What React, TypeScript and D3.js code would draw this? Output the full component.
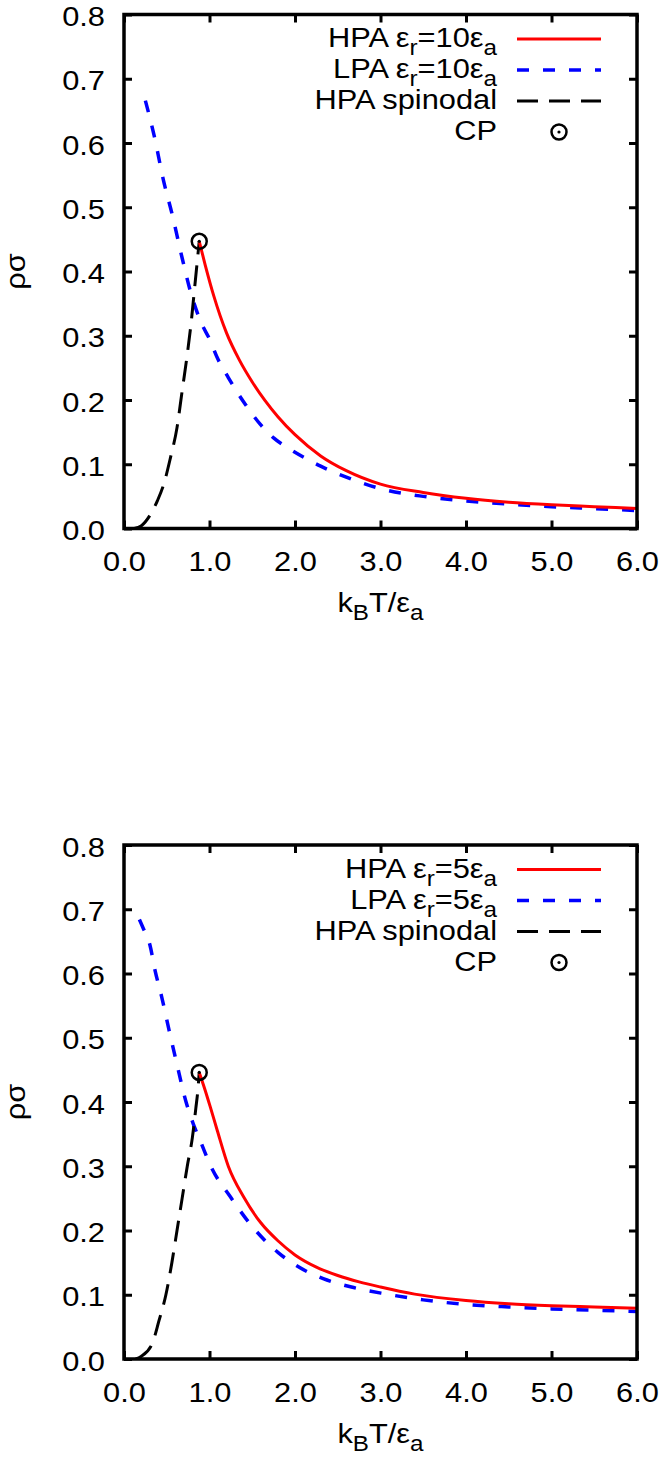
import React, { useEffect, useRef } from 'react';
import * as d3 from 'd3';

// axis ticks
const tickT = [0, 1, 2, 3, 4, 5, 6];
const tickRho = [0, 0.1, 0.2, 0.3, 0.4, 0.5, 0.6, 0.7, 0.8];

// upper panel, eps_r = 10 eps_a
const hpa10T = [0.88, 0.95, 1.05, 1.2, 1.35, 1.5, 1.65, 1.8, 2.0, 2.3, 2.6, 3.0, 3.5, 4.0, 4.5, 5.0, 5.5, 6.0];
const hpa10Rho = [0.447, 0.41, 0.362, 0.304, 0.262, 0.228, 0.199, 0.174, 0.146, 0.113, 0.09, 0.069, 0.056, 0.047, 0.041, 0.037, 0.034, 0.031];
const lpa10T = [0.25, 0.35, 0.465, 0.563, 0.68, 0.777, 0.894, 1.01, 1.09, 1.22, 1.42, 1.595, 1.75, 1.945, 2.14, 2.3, 2.6, 3.0, 3.5, 4.0, 4.5, 5.0, 5.5, 6.0];
const lpa10Rho = [0.666, 0.613, 0.54, 0.489, 0.421, 0.369, 0.323, 0.292, 0.266, 0.235, 0.193, 0.162, 0.141, 0.123, 0.108, 0.097, 0.08, 0.062, 0.05, 0.043, 0.038, 0.034, 0.031, 0.028];
const spin10T = [0.12, 0.2, 0.31, 0.39, 0.465, 0.543, 0.62, 0.68, 0.735, 0.785, 0.83, 0.88];
const spin10Rho = [0.0, 0.004, 0.022, 0.043, 0.069, 0.11, 0.157, 0.214, 0.266, 0.32, 0.38, 0.447];
const cp10 = [0.88, 0.447];

// lower panel, eps_r = 5 eps_a
const hpa5T = [0.88, 0.95, 1.01, 1.09, 1.22, 1.4, 1.6, 1.8, 2.0, 2.25, 2.5, 2.75, 3.0, 3.4, 4.0, 4.5, 5.0, 5.5, 6.0];
const hpa5Rho = [0.446, 0.418, 0.392, 0.356, 0.3, 0.252, 0.212, 0.184, 0.162, 0.143, 0.13, 0.12, 0.112, 0.101, 0.091, 0.086, 0.083, 0.081, 0.079];
const lpa5T = [0.18, 0.226, 0.304, 0.363, 0.44, 0.527, 0.617, 0.726, 0.81, 0.9, 1.015, 1.246, 1.52, 1.8, 2.02, 2.33, 2.66, 3.05, 3.5, 4.0, 4.5, 5.0, 5.5, 6.0];
const lpa5Rho = [0.684, 0.67, 0.644, 0.605, 0.564, 0.512, 0.46, 0.4, 0.366, 0.337, 0.3, 0.252, 0.203, 0.166, 0.145, 0.125, 0.112, 0.1015, 0.092, 0.085, 0.081, 0.078, 0.076, 0.074];
const spin5T = [0.137, 0.2, 0.33, 0.41, 0.49, 0.56, 0.62, 0.68, 0.74, 0.8, 0.84, 0.865, 0.88];
const spin5Rho = [0, 0.004, 0.024, 0.06, 0.1, 0.15, 0.2, 0.25, 0.3, 0.345, 0.39, 0.42, 0.446];
const cp5 = [0.88, 0.446];

const FONT = '"Liberation Sans", Arial, Helvetica, sans-serif';
const FS = 28;
const SUB = 22;
const SX = 1.1; // gnuplot text is a bit wider than plain Arial

const L = 124, R = 637, T = 14.5, B = 528.5;

type Panel = {
  top: number;
  eps: string;
  hpa: [number[], number[]];
  lpa: [number[], number[]];
  spin: [number[], number[]];
  cp: number[];
};

const panels: Panel[] = [
  { top: 0, eps: '10', hpa: [hpa10T, hpa10Rho], lpa: [lpa10T, lpa10Rho], spin: [spin10T, spin10Rho], cp: cp10 },
  { top: 830.5, eps: '5', hpa: [hpa5T, hpa5Rho], lpa: [lpa5T, lpa5Rho], spin: [spin5T, spin5Rho], cp: cp5 },
];

const addText = (g: any, x: number, y: number, anchor: string, rot = 0) =>
  g.append('text')
    .attr('transform', `translate(${x},${y})${rot ? ` rotate(${rot})` : ''} scale(${SX},1)`)
    .attr('text-anchor', anchor)
    .attr('font-family', FONT)
    .attr('font-size', FS)
    .attr('fill', '#000');

// subscript on / off
const sub = (t: any, s: string) => {
  t.append('tspan').attr('dy', 8).attr('font-size', SUB).text(s);
};
const norm = (t: any, s: string) => {
  t.append('tspan').attr('dy', -8).text(s);
};

const drawPanel = (svg: any, p: Panel, idx: number) => {
  const g = svg.append('g').attr('transform', `translate(0,${p.top})`);
  const x = d3.scaleLinear().domain([0, 6]).range([L, R]);
  const y = d3.scaleLinear().domain([0, 0.8]).range([B, T]);
  const fmt = d3.format('.1f');

  const styleAxis = (a: any) => {
    a.select('.domain').remove();
    a.selectAll('line').attr('stroke', '#000').attr('stroke-width', 3);
  };

  // left axis with labels
  g.append('g')
    .attr('transform', `translate(${L},0)`)
    .call(d3.axisLeft(y).tickValues(tickRho).tickSize(-8).tickSizeOuter(0).tickFormat(fmt as any))
    .call(styleAxis)
    .attr('font-size', FS).attr('font-family', FONT)
    .selectAll('text')
    .attr('x', null).attr('dy', null).attr('fill', '#000')
    .attr('transform', `translate(-19,11) scale(${SX},1)`);

  // bottom axis with labels
  g.append('g')
    .attr('transform', `translate(0,${B})`)
    .call(d3.axisBottom(x).tickValues(tickT).tickSize(-8).tickSizeOuter(0).tickFormat(fmt as any))
    .call(styleAxis)
    .attr('font-size', FS).attr('font-family', FONT)
    .selectAll('text')
    .attr('y', null).attr('dy', null).attr('fill', '#000')
    .attr('transform', `translate(0,42.5) scale(${SX},1)`);

  // mirrored ticks, no labels
  g.append('g')
    .attr('transform', `translate(0,${T})`)
    .call(d3.axisTop(x).tickValues(tickT).tickSize(-8).tickSizeOuter(0).tickFormat(() => ''))
    .call(styleAxis);
  g.append('g')
    .attr('transform', `translate(${R},0)`)
    .call(d3.axisRight(y).tickValues(tickRho).tickSize(-8).tickSizeOuter(0).tickFormat(() => ''))
    .call(styleAxis);

  // curves
  const clipId = `clip-${idx}`;
  g.append('clipPath').attr('id', clipId)
    .append('rect').attr('x', L).attr('y', T).attr('width', R - L).attr('height', B - T);

  const line = d3.line<[number, number]>()
    .x(d => x(d[0]))
    .y(d => y(d[1]))
    .curve(d3.curveMonotoneX);

  const curves = g.append('g').attr('clip-path', `url(#${clipId})`);
  curves.append('path')
    .attr('d', line(d3.zip(p.lpa[0], p.lpa[1]) as [number, number][]))
    .attr('fill', 'none').attr('stroke', '#0000ff').attr('stroke-width', 3.5)
    .attr('stroke-dasharray', '12,14');
  curves.append('path')
    .attr('d', line(d3.zip(p.spin[0], p.spin[1]) as [number, number][]))
    .attr('fill', 'none').attr('stroke', '#000').attr('stroke-width', 3)
    .attr('stroke-dasharray', '21,11');
  curves.append('path')
    .attr('d', line(d3.zip(p.hpa[0], p.hpa[1]) as [number, number][]))
    .attr('fill', 'none').attr('stroke', '#ff0000').attr('stroke-width', 3);

  // critical point
  const cpMark = (cx: number, cy: number) => {
    g.append('circle').attr('cx', cx).attr('cy', cy).attr('r', 7.5)
      .attr('fill', 'none').attr('stroke', '#000').attr('stroke-width', 2.5);
    g.append('circle').attr('cx', cx).attr('cy', cy).attr('r', 1.6).attr('fill', '#000');
  };
  cpMark(x(p.cp[0]), y(p.cp[1]));

  // frame
  g.append('rect')
    .attr('x', L).attr('y', T).attr('width', R - L).attr('height', B - T)
    .attr('fill', 'none').attr('stroke', '#000').attr('stroke-width', 3.5);

  // legend
  const tx = 497, sx0 = 517, sx1 = 601;
  const rows = [47, 78, 109, 140];

  const t1 = addText(g, tx, rows[0], 'end');
  t1.append('tspan').text('HPA ε');
  sub(t1, 'r');
  norm(t1, `=${p.eps}ε`);
  sub(t1, 'a');
  g.append('line').attr('x1', sx0).attr('x2', sx1).attr('y1', rows[0] - 8).attr('y2', rows[0] - 8)
    .attr('stroke', '#ff0000').attr('stroke-width', 3);

  const t2 = addText(g, tx, rows[1], 'end');
  t2.append('tspan').text('LPA ε');
  sub(t2, 'r');
  norm(t2, `=${p.eps}ε`);
  sub(t2, 'a');
  g.append('line').attr('x1', sx0).attr('x2', sx1).attr('y1', rows[1] - 8).attr('y2', rows[1] - 8)
    .attr('stroke', '#0000ff').attr('stroke-width', 3.5).attr('stroke-dasharray', '12,14');

  addText(g, tx, rows[2], 'end').text('HPA spinodal');
  g.append('line').attr('x1', sx0).attr('x2', sx1).attr('y1', rows[2] - 8).attr('y2', rows[2] - 8)
    .attr('stroke', '#000').attr('stroke-width', 3).attr('stroke-dasharray', '21,11');

  addText(g, tx, rows[3], 'end').text('CP');
  cpMark((sx0 + sx1) / 2, rows[3] - 8);

  // axis titles
  addText(g, 25, (T + B) / 2, 'middle', -90).text('ρσ');
  const xl = addText(g, (L + R) / 2, 612, 'middle');
  xl.append('tspan').text('k');
  sub(xl, 'B');
  norm(xl, 'T/ε');
  sub(xl, 'a');
};

const App = () => {
  const ref = useRef<SVGSVGElement>(null);

  useEffect(() => {
    const svg = d3.select(ref.current);
    svg.selectAll('*').remove();
    panels.forEach((p, i) => drawPanel(svg, p, i));
  }, []);

  return (
    <svg
      ref={ref}
      width={660}
      height={1457}
      style={{ position: 'absolute', left: 0, top: 0, background: '#fff' }}
    />
  );
};

export default App;
